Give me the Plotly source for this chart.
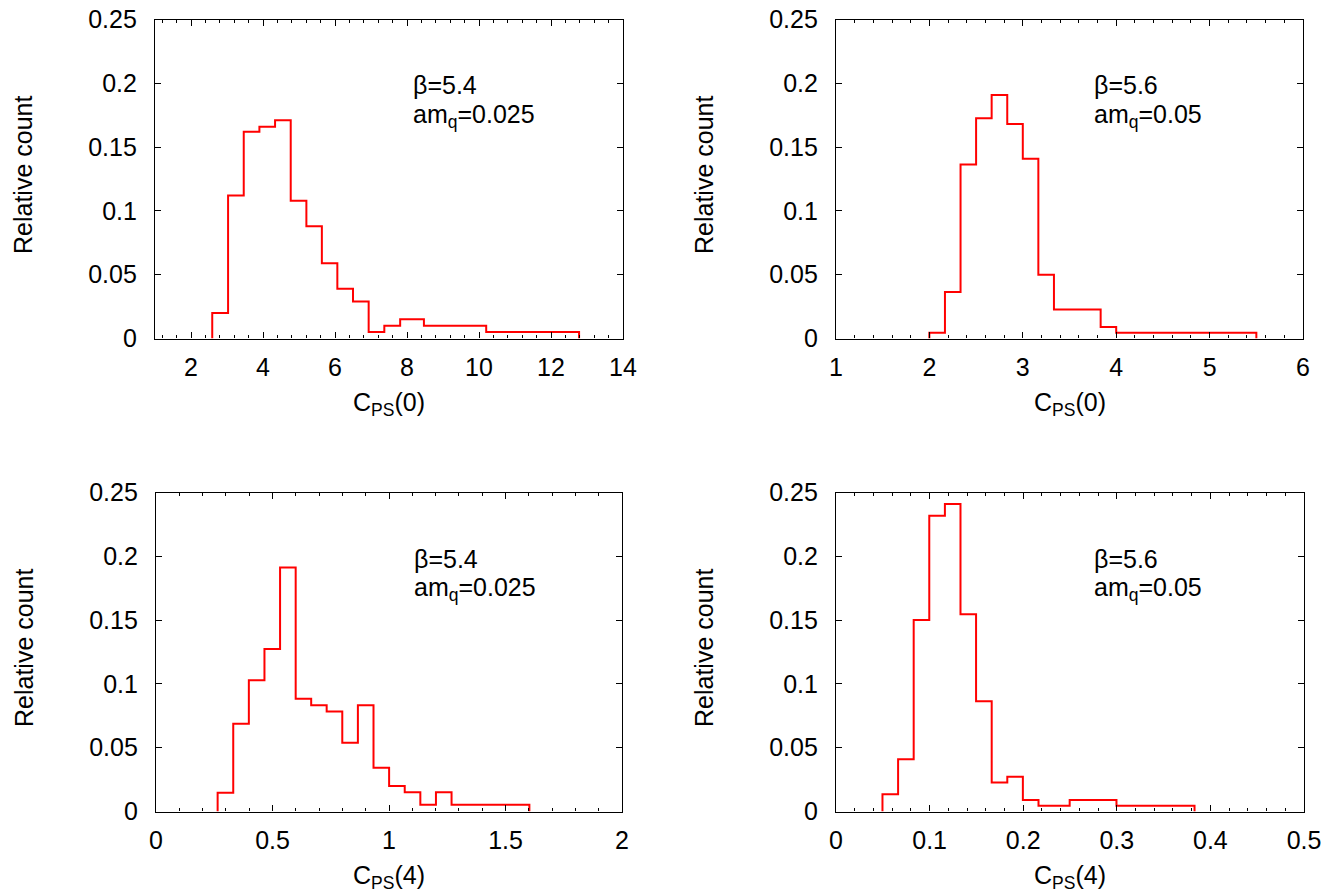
import numpy as np
import plotly.graph_objects as go

# ---------------- data (bin centres and relative counts) ----------------
centres_b54_c0 = [2.81, 3.25, 3.68, 4.12, 4.55, 4.99, 5.42, 5.85, 6.28, 6.72,
                  7.15, 7.59, 8.03, 8.91, 11.49]
counts_b54_c0 = [0.020, 0.112, 0.162, 0.166, 0.171, 0.108, 0.088, 0.059, 0.039,
                 0.029, 0.005, 0.010, 0.015, 0.010, 0.005]

centres_b56_c0 = [2.083, 2.250, 2.417, 2.583, 2.750, 2.917, 3.083, 3.250, 3.417,
                  3.583, 3.750, 3.917, 4.083, 5.250, 5.417]
counts_b56_c0 = [0.0045, 0.0364, 0.1364, 0.1727, 0.1909, 0.1682, 0.1409, 0.0500,
                 0.0227, 0.0227, 0.0227, 0.0091, 0.0045, 0.0045, 0.0045]

centres_b54_c4 = [0.298, 0.365, 0.432, 0.499, 0.566, 0.633, 0.699, 0.766, 0.833,
                  0.900, 0.967, 1.034, 1.101, 1.168, 1.235, 1.302, 1.502, 1.569]
counts_b54_c4 = [0.0147, 0.0687, 0.1029, 0.1274, 0.1913, 0.0883, 0.0833, 0.0784,
                 0.0538, 0.0833, 0.0343, 0.0200, 0.0150, 0.0053, 0.0150, 0.0053,
                 0.0053, 0.0053]

centres_b56_c4 = [0.0580, 0.0747, 0.0913, 0.1080, 0.1247, 0.1413, 0.1580, 0.1747,
                  0.1913, 0.2080, 0.2247, 0.2413, 0.2580, 0.2747, 0.2913, 0.3080,
                  0.3580, 0.3747]
counts_b56_c4 = [0.0136, 0.0409, 0.1500, 0.2318, 0.2409, 0.1545, 0.0864, 0.0227,
                 0.0273, 0.0091, 0.0045, 0.0045, 0.0091, 0.0091, 0.0091, 0.0045,
                 0.0045, 0.0045]

x_titles = ["C<sub>PS</sub>(0)", "C<sub>PS</sub>(0)", "C<sub>PS</sub>(4)", "C<sub>PS</sub>(4)"]
y_title = "Relative count"
beta_labels = ["β=5.4", "β=5.6", "β=5.4", "β=5.6"]
mass_labels = ["am<sub>q</sub>=0.025", "am<sub>q</sub>=0.05",
               "am<sub>q</sub>=0.025", "am<sub>q</sub>=0.05"]

x_ranges = [[1, 14], [1, 6], [0, 2], [0, 0.5]]
x_major = [2, 1, 0.5, 0.1]
x_minor = [0.4, 0.2, 0.1, 0.02]

# ---------------- helpers ----------------
W, H = 1340, 896
OFF = 8  # page body margin offset
FONT = "Liberation Sans, Arial, sans-serif"
FS = 25


def histeps(c, v):
    """gnuplot-style 'histeps' path: steps halfway between centres."""
    c = np.asarray(c, float)
    v = np.asarray(v, float)
    left = c[0] - (c[1] - c[0]) / 2
    right = c[-1] + (c[-1] - c[-2]) / 2
    mids = (c[:-1] + c[1:]) / 2
    xs = np.concatenate([[left], mids, [right, right]])
    ys = np.concatenate([[0], v, [0]])
    return xs, ys


def px(x):
    return (x - OFF) / W


def py(y):
    return 1 - (y - OFF) / H


series = [(centres_b54_c0, counts_b54_c0), (centres_b56_c0, counts_b56_c0),
          (centres_b54_c4, counts_b54_c4), (centres_b56_c4, counts_b56_c4)]

# plot area boxes in screen pixels (left, right, top, bottom)
boxes = [(155, 623, 19.5, 338.5), (836, 1303, 19.5, 338.5),
         (156, 622, 492.5, 811.5), (836, 1304, 492.5, 811.5)]

fig = go.Figure()
layout = dict(
    template="none",
    width=W, height=H,
    margin=dict(l=0, r=0, t=0, b=0, autoexpand=False),
    paper_bgcolor="white", plot_bgcolor="white",
    showlegend=False,
    font=dict(family=FONT, size=FS, color="black"),
)
annotations = []

for i, ((c, v), (l, r, t, b)) in enumerate(zip(series, boxes)):
    n = "" if i == 0 else str(i + 1)
    xs, ys = histeps(c, v)
    fig.add_trace(go.Scatter(x=xs, y=ys, mode="lines",
                             line=dict(color="#ff0000", width=2, shape="vh"),
                             xaxis="x" + n, yaxis="y" + n, hoverinfo="skip"))
    common = dict(showline=True, linecolor="black", linewidth=1.2, mirror="ticks",
                  ticks="inside", tickcolor="black", tickwidth=1, showgrid=False,
                  zeroline=False, automargin=False, ticklabeloverflow="allow",
                  tickfont=dict(family=FONT, size=FS, color="black"))
    layout["xaxis" + n] = dict(
        domain=[px(l), px(r)], anchor="y" + n, range=x_ranges[i],
        tick0=0, dtick=x_major[i], ticklen=6, ticklabelstandoff=6,
        minor=dict(dtick=x_minor[i], tick0=0, ticklen=3, ticks="inside",
                   tickcolor="black", tickwidth=1, showgrid=False),
        **common)
    layout["yaxis" + n] = dict(
        domain=[py(b), py(t)], anchor="x" + n, range=[0, 0.25],
        tick0=0, dtick=0.05, ticklen=6, ticklabelstandoff=12,
        **common)
    # axis titles
    annotations.append(dict(text=x_titles[i], xref="paper", yref="paper",
                            x=px((l + r) / 2), y=py(b + 65), showarrow=False,
                            xanchor="center", yanchor="middle",
                            font=dict(family=FONT, size=FS)))
    annotations.append(dict(text=y_title, xref="paper", yref="paper",
                            x=px(l - 132), y=py((t + b) / 2 - 4), showarrow=False,
                            textangle=-90, xanchor="center", yanchor="middle",
                            font=dict(family=FONT, size=FS)))
    # in-plot labels
    annotations.append(dict(text=beta_labels[i], xref="paper", yref="paper",
                            x=px(l + 256), y=py(t + 66), showarrow=False,
                            xanchor="left", yanchor="middle",
                            font=dict(family=FONT, size=FS)))
    annotations.append(dict(text=mass_labels[i], xref="paper", yref="paper",
                            x=px(l + 256), y=py(t + 96), showarrow=False,
                            xanchor="left", yanchor="middle",
                            font=dict(family=FONT, size=FS)))

layout["annotations"] = annotations
fig.update_layout(**layout)
fig.write_html("out.html")
